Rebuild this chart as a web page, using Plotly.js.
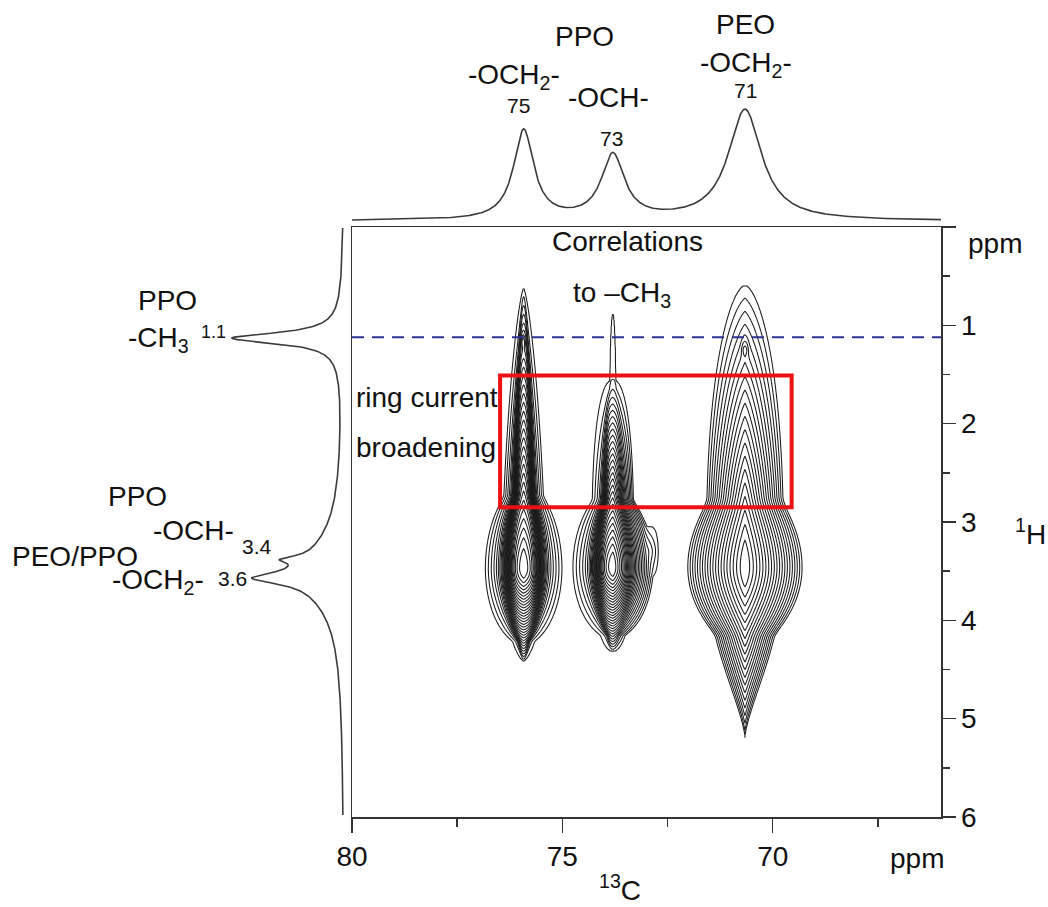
<!DOCTYPE html>
<html>
<head>
<meta charset="utf-8">
<script src="https://cdn.plot.ly/plotly-3.0.1.min.js"></script>
<style>html,body{margin:0;padding:0;background:#fff}</style>
</head>
<body>
<div id="chart" style="width:1048px;height:907px"></div>
<script>
// ---------- 1D 13C projection (top): peak positions, heights, Lorentzian half-widths ----------
const C13_SHIFTS     = [75.92, 73.80, 70.66];
const C13_HEIGHTS    = [0.80, 0.575, 0.99];
const C13_HALFWIDTHS = [0.29, 0.33, 0.48];

// ---------- 1D 1H projection (left) ----------
const H1_SHIFTS     = [1.13, 1.13, 3.38, 3.57, 3.52];
const H1_HEIGHTS    = [0.94, 0.06, 0.22, 0.49, 0.335];
const H1_HALFWIDTHS = [0.065, 0.30, 0.04, 0.07, 0.42];

// ---------- 2D cross-peak components (read from the contour extents) ----------
// 0: 75.9 main, 1: 75.9 CH3 corr., 2: 73.8 main, 3: 73.8 CH3 corr. spike, 4: 73.8 side lobe,
// 5: 70.7 main, 6: 70.7 CH3 corr.
const CP_C13      = [75.92, 75.93, 73.80, 73.80, 72.96, 70.66, 70.66];
const CP_H1       = [3.47, 1.17, 3.46, 1.60, 3.30, 3.46, 1.25];
const CP_LEVELS   = [30, 7.5, 28, 0.9, 2.6, 20, 6.3];
const CP_TOP      = [0.62, 0.97, 1.55, 0.88, 3.04, 0.59, 1.02];
const CP_BOTTOM   = [4.42, 1.42, 4.32, 2.60, 3.56, 5.20, 1.52];
const CP_ROUND    = [0.18, 0.03, 0.16, 0.03, 0.05, 0.22, 0.03];
// outer half-width of the tail ridge and its shape above / below the centre
const CP_RIDGE_W  = [0.52, 0.09, 0.50, 0.07, 0.24, 0.92, 0.14];
const CP_RIDGE_PU = [1.5, 2, 3, 2, 2, 2.5, 2];
const CP_RIDGE_RU = [0.7, 0.5, 0.45, 0.5, 0.3, 0.6, 0.5];
const CP_RIDGE_PD = [2, 2, 2, 2, 2, 2, 2];
const CP_RIDGE_RD = [0.7, 0.5, 0.5, 0.5, 0.3, 1.5, 0.5];
// central bulb: half-width, half-height, roundness
const CP_BULB_W   = [0.85, 0, 0.90, 0, 0, 1.20, 0];
const CP_BULB_H   = [0.75, 1, 0.70, 1, 1, 0.72, 1];
const CP_BULB_R   = [0.5, 0.5, 0.5, 0.5, 0.5, 0.6, 0.5];
// cross-section: linear share (high-ppm side / low-ppm side), exponent, dense-band centre and width
const CP_XBETA_L  = [0.35, 1, 0.35, 1, 1, 1, 1];
const CP_XBETA_R  = [0.35, 1, 0.75, 1, 1, 1, 1];
const CP_XPOW     = [1.2, 2, 1.2, 2, 1.5, 1.2, 2];
const CP_XBAND    = [0.42, 0.5, 0.40, 0.5, 0.5, 0.5, 0.5];
const CP_XBANDW   = [0.08, 0.1, 0.08, 0.1, 0.1, 0.1, 0.1];

// ---------- annotations ----------
const DASH_H1 = 1.12;                       // CH3 correlation line
const BOX_C13 = [76.48, 69.55];             // ring-current box
const BOX_H1  = [1.51, 2.85];

// ---------- build curves ----------
function lor(x, c, h, g) { const u = (x - c) / g; return h / (1 + u * u); }

const topX = [], topY = [];
for (let i = 0; i <= 1400; i++) {
  const x = 80 - i * 0.01;
  let s = 0;
  for (let k = 0; k < C13_SHIFTS.length; k++) s += lor(x, C13_SHIFTS[k], C13_HEIGHTS[k], C13_HALFWIDTHS[k]);
  topX.push(x); topY.push(s);
}
const leftY = [], leftX = [];
for (let i = 0; i <= 1194; i++) {
  const y = 0.01 + i * 0.005;
  let s = 0;
  for (let k = 0; k < H1_SHIFTS.length; k++) s += lor(y, H1_SHIFTS[k], H1_HEIGHTS[k], H1_HALFWIDTHS[k]);
  leftY.push(y); leftX.push(s);
}

const sig = u => 1 / (1 + Math.exp(-u));
function crossProfile(k, t, b) {
  const tq = Math.pow(t, CP_XPOW[k]);
  if (b >= 1) return tq;
  const c = CP_XBAND[k], s = CP_XBANDW[k];
  const s0 = sig(-c / s), s1 = sig((1 - c) / s);
  return b * tq + (1 - b) * (sig((t - c) / s) - s0) / (s1 - s0);
}
function compLevel(k, x, y) {
  const d = y - CP_H1[k];
  const ad = Math.abs(d);
  const e = CP_ROUND[k];
  const ads = Math.sqrt(ad * ad + e * e) - e;
  const up = d < 0;
  const D = up ? CP_H1[k] - CP_TOP[k] : CP_BOTTOM[k] - CP_H1[k];
  const Ds = Math.sqrt(D * D + e * e) - e;
  const lc = CP_LEVELS[k] * (1 - ads / Ds);
  if (lc <= 0) return lc - 1;
  const r = ad / D;
  const wr = r < 1 ? CP_RIDGE_W[k] * Math.pow(1 - Math.pow(r, up ? CP_RIDGE_PU[k] : CP_RIDGE_PD[k]),
                                               up ? CP_RIDGE_RU[k] : CP_RIDGE_RD[k]) : 0;
  let wb = 0;
  if (CP_BULB_W[k] > 0 && ad < CP_BULB_H[k]) {
    const rb = ad / CP_BULB_H[k];
    wb = CP_BULB_W[k] * Math.pow(1 - rb * rb, CP_BULB_R[k]);
  }
  const w = Math.cbrt(wr * wr * wr + wb * wb * wb);
  if (w < 1e-6) return -2;
  const dx = x - CP_C13[k];
  const t = Math.abs(dx) / w;
  const b = dx > 0 ? CP_XBETA_L[k] : CP_XBETA_R[k];
  return lc * (1 - crossProfile(k, t, b)) - (t > 1 ? (t - 1) * 8 : 0);
}
const gx = [], gy = [], gz = [];
for (let i = 0; i <= 940; i++) gx.push(+(68.3 + i * 0.01).toFixed(3));
for (let j = 0; j <= 500; j++) gy.push(+(0.45 + j * 0.01).toFixed(3));
const reach = CP_C13.map((c, k) => (CP_RIDGE_W[k] + CP_BULB_W[k]) * 1.2);
for (let j = 0; j < gy.length; j++) {
  const row = new Array(gx.length);
  for (let i = 0; i < gx.length; i++) {
    let s = 0;
    for (let k = 0; k < CP_C13.length; k++) {
      if (Math.abs(gx[i] - CP_C13[k]) > reach[k]) continue;
      const L = compLevel(k, gx[i], gy[j]);
      if (L > -6) s += Math.exp(L);
    }
    row[i] = s > 0 ? Math.max(Math.log(s), -3) : -3;
  }
  gz.push(row);
}

// ---------- layout helpers ----------
const W = 1048, H = 907;
const PL = 352, PR = 941, PT = 227, PB = 817;
const dom = { l: PL / W, r: PR / W, b: 1 - PB / H, t: 1 - PT / H };
const FONT = 'Liberation Sans, Arial, Helvetica, sans-serif';
function ann(text, xp, yp, size, xanchor) {
  return { text: text, x: xp / W, y: 1 - yp / H, xref: 'paper', yref: 'paper',
    xanchor: xanchor || 'center', yanchor: 'middle', showarrow: false,
    font: { family: FONT, size: size, color: '#111' } };
}

const traces = [
  { type: 'contour', x: gx, y: gy, z: gz, xaxis: 'x', yaxis: 'y', showscale: false, hoverinfo: 'skip',
    autocontour: false, contours: { coloring: 'none', start: 0, end: 40, size: 1 },
    line: { color: '#1a1a1a', width: 1.05, smoothing: 0.8 } },
  { type: 'scatter', mode: 'lines', x: topX, y: topY, xaxis: 'x', yaxis: 'y2',
    line: { color: '#3a3a3a', width: 1.6 }, hoverinfo: 'skip' },
  { type: 'scatter', mode: 'lines', x: leftX, y: leftY, xaxis: 'x3', yaxis: 'y',
    line: { color: '#3a3a3a', width: 1.6 }, hoverinfo: 'skip' }
];

const axLine = '#333';
const BIG = 28, SMALL = 21;
const layout = {
  width: W, height: H, margin: { l: 0, r: 0, t: 0, b: 0 },
  paper_bgcolor: '#fff', plot_bgcolor: 'rgba(0,0,0,0)', showlegend: false,
  font: { family: FONT, color: '#111' },
  xaxis: { domain: [dom.l, dom.r], range: [80, 66], anchor: 'y', showgrid: false, zeroline: false,
    showline: true, mirror: true, linecolor: axLine, linewidth: 1.5,
    ticks: 'outside', ticklen: 14, tickwidth: 1.5, tickcolor: axLine,
    tickvals: [80, 75, 70], ticktext: ['80', '75', '70'], tickfont: { size: BIG, family: FONT, color: '#111' },
    minor: { tickvals: [77.5, 72.5, 67.5], ticks: 'outside', ticklen: 8, tickwidth: 1.5, tickcolor: axLine } },
  yaxis: { domain: [dom.b, dom.t], range: [6, 0], anchor: 'x', side: 'right', showgrid: false, zeroline: false,
    showline: true, mirror: true, linecolor: axLine, linewidth: 1.5,
    ticks: 'outside', ticklen: 13, tickwidth: 1.5, tickcolor: axLine,
    tickvals: [0, 1, 2, 3, 4, 5, 6], ticktext: ['', '1', '2', '3', '4', '5', '6'],
    tickfont: { size: BIG, family: FONT, color: '#111' },
    minor: { tickvals: [0.5, 1.5, 2.5, 3.5, 4.5, 5.5], ticks: 'outside', ticklen: 7, tickwidth: 1.5, tickcolor: axLine } },
  yaxis2: { domain: [dom.t, 1], range: [-0.054, 1.973], anchor: 'x', visible: false, fixedrange: true },
  xaxis3: { domain: [0, dom.l], range: [3.099, -0.072], anchor: 'y', visible: false, fixedrange: true },
  shapes: [
    { type: 'line', xref: 'x', yref: 'y', x0: 80, x1: 66, y0: DASH_H1, y1: DASH_H1,
      line: { color: '#2e3192', width: 2, dash: '12px,8px' } },
    { type: 'rect', xref: 'x', yref: 'y', x0: BOX_C13[0], x1: BOX_C13[1], y0: BOX_H1[0], y1: BOX_H1[1],
      line: { color: '#ee1111', width: 4 }, fillcolor: 'rgba(0,0,0,0)' }
  ],
  annotations: [
    ann('PPO', 584, 36, BIG), ann('-OCH<sub>2</sub>-', 514, 76, BIG), ann('75', 518, 106, SMALL),
    ann('-OCH-', 608, 97, BIG), ann('73', 611, 138, SMALL),
    ann('PEO', 745, 24, BIG), ann('-OCH<sub>2</sub>-', 746, 64, BIG), ann('71', 745, 91, SMALL),
    ann('PPO', 167, 300, BIG), ann('-CH<sub>3</sub>', 158, 339, BIG), ann('1.1', 213, 332, 18),
    ann('PPO', 137, 496, BIG), ann('-OCH-', 193, 530, BIG), ann('3.4', 257, 546, SMALL),
    ann('PEO/PPO', 75, 556, BIG), ann('-OCH<sub>2</sub>-', 158, 581, BIG), ann('3.6', 232, 578, SMALL),
    ann('Correlations', 627, 242, BIG), ann('to \u2013CH<sub>3</sub>', 622, 294, BIG),
    ann('ring current', 354, 397, BIG, 'left'), ann('broadening', 354, 447, BIG, 'left'),
    ann('ppm', 995, 243, BIG), ann('<sup>1</sup>H', 1030, 532, BIG),
    ann('ppm', 917, 858, BIG), ann('<sup>13</sup>C', 620, 888, BIG)
  ]
};

Plotly.newPlot('chart', traces, layout, { staticPlot: true, displayModeBar: false });
</script>
</body>
</html>
